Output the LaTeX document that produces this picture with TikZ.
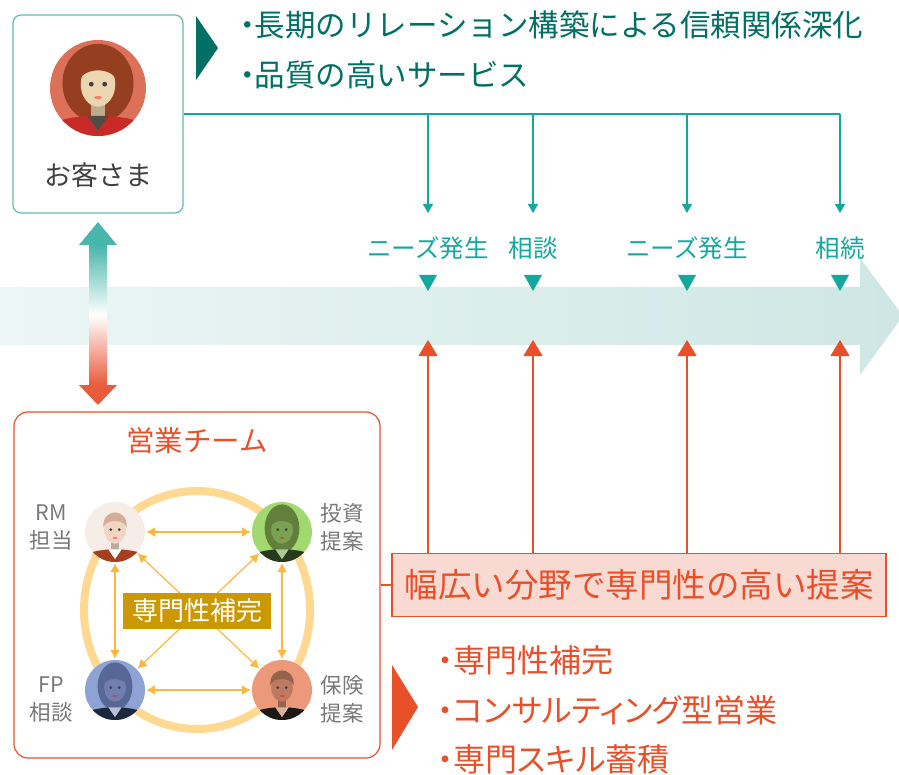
\documentclass[tikz,border=0pt]{standalone}
\usepackage{fontspec}
\setmainfont{Noto Sans CJK JP}
\newfontfamily\propfont[RawFeature=+palt]{Noto Sans CJK JP}
\usetikzlibrary{arrows.meta}

\definecolor{tealline}{RGB}{19,168,158}
\definecolor{tealdark}{RGB}{0,112,100}
\definecolor{tealbox}{RGB}{95,188,178}
\definecolor{tealhead}{RGB}{72,182,170}
\definecolor{bandlight}{RGB}{236,246,245}
\definecolor{banddark}{RGB}{206,231,228}
\definecolor{orangeline}{RGB}{232,80,42}
\definecolor{orangefill}{RGB}{249,218,211}
\definecolor{orangehead}{RGB}{232,92,60}
\definecolor{ringcol}{RGB}{255,216,145}
\definecolor{linkcol}{RGB}{255,182,62}
\definecolor{gold}{RGB}{204,152,0}
\definecolor{txtgray}{RGB}{64,64,64}
\definecolor{lblgray}{RGB}{120,120,120}
% avatar colours
\definecolor{skinA}{RGB}{236,214,178}
\definecolor{hairA}{RGB}{150,62,32}
\definecolor{bgA}{RGB}{220,112,88}
\definecolor{suitA}{RGB}{200,42,40}
\definecolor{shirtA}{RGB}{82,76,70}
\definecolor{skinB}{RGB}{240,212,196}
\definecolor{hairB}{RGB}{214,172,148}
\definecolor{bgB}{RGB}{246,236,232}
\definecolor{suitB}{RGB}{168,62,32}
\definecolor{skinC}{RGB}{122,162,82}
\definecolor{hairC}{RGB}{98,128,60}
\definecolor{bgC}{RGB}{162,216,112}
\definecolor{suitC}{RGB}{40,58,30}
\definecolor{skinD}{RGB}{112,126,176}
\definecolor{hairD}{RGB}{88,104,150}
\definecolor{bgD}{RGB}{142,162,212}
\definecolor{suitD}{RGB}{30,40,60}
\definecolor{skinE}{RGB}{190,122,96}
\definecolor{hairE}{RGB}{150,98,74}
\definecolor{bgE}{RGB}{236,152,122}
\definecolor{suitE}{RGB}{28,24,22}

% narrow bullet dot
\newcommand{\dotmark}{\kern-0.15em・\kern-0.28em}

% #1 centre, #2 radius, #3 background, #4 hair, #5 skin, #6 suit, #7 shirt, #8 hair at back (0 none, 1 long, 2 wide)
\newcommand{\persona}[8]{%
  \begin{scope}[shift={(#1)}, x=#2, y=#2]
    \fill[#3] (0,0) circle (1);
    \begin{scope}
      \clip (0,0) circle (1);
      \ifcase#8\or
        \fill[#4] (0,0.12) ellipse (0.58 and 0.8);
      \or
        \fill[#4] (0,0.1) ellipse (0.74 and 0.82);
      \fi
      \fill[#5!80!black] (-0.14,-0.15) rectangle (0.14,-0.62);
      \fill[#6] (-1,-1.1) .. controls (-0.9,-0.66) .. (-0.22,-0.58) -- (0,-0.9)
        -- (0.22,-0.58) .. controls (0.9,-0.66) .. (1,-1.1) -- cycle;
      \fill[#7] (-0.22,-0.58) -- (0,-0.9) -- (0.22,-0.58) -- cycle;
    \end{scope}
    \fill[#5] (0,0.08) ellipse (0.36 and 0.47);
    \fill[#4] (-0.39,0.15) .. controls (-0.44,0.82) and (0.44,0.82) .. (0.39,0.15)
      .. controls (0.3,0.44) and (-0.3,0.44) .. (-0.39,0.15) -- cycle;
    \fill[black!75] (-0.14,0.08) circle (0.05) (0.14,0.08) circle (0.05);
    \fill[#5!60!red] (0,-0.2) ellipse (0.08 and 0.035);
  \end{scope}}

\begin{document}
\begin{tikzpicture}[x=1pt,y=-1pt,
    every node/.style={inner sep=0pt},
    custbox/.style={draw=tealbox,line width=1.2pt,rounded corners=8pt,minimum width=170pt,minimum height=198pt},
    teambox/.style={draw=orangeline,line width=1.2pt,rounded corners=14pt,minimum width=366pt,minimum height=346pt},
    eventlabel/.style={text=tealline,font=\fontsize{24.5}{28}\selectfont},
    dropline/.style={tealline,line width=1.2pt,-{Triangle[length=9pt,width=10pt]}},
    riseline/.style={orangeline,line width=1.2pt,-{Triangle[length=16pt,width=19pt]}},
    member/.style={circle,minimum size=62pt},
    memberlabel/.style={text=lblgray,align=center,font=\fontsize{21.5}{28}\selectfont},
    link/.style={linkcol,line width=1.2pt,{Latex[length=9pt,width=10pt]}-{Latex[length=9pt,width=10pt]}},
    bigtext/.style={anchor=west,font=\fontsize{30.5}{36}\selectfont},
    gaintext/.style={anchor=west,text=orangeline,font=\propfont\fontsize{32}{38}\selectfont}]
  \useasboundingbox (0,0) rectangle (899,775);

  % time band
  \shade[left color=bandlight,right color=banddark]
    (0,287) -- (860,287) -- (860,258) -- (903,316) -- (860,375) -- (860,345) -- (0,345) -- cycle;

  % customer
  \node[custbox] (cust) at (98,114) {};
  \persona{98,88}{48pt}{bgA}{hairA}{skinA}{suitA}{shirtA}{2}
  \node[text=txtgray,font=\fontsize{27}{30}\selectfont] (custname) at (98,175) {お客さま};

  \fill[tealdark] (196,16) -- (218,48) -- (196,80) -- cycle;
  \node[bigtext,text=tealdark] (merit1) at (237,25) {\dotmark 長期のリレーション構築による信頼関係深化};
  \node[bigtext,text=tealdark] (merit2) at (237,75) {\dotmark 品質の高いサービス};

  % proposal box
  \node[draw=orangeline,fill=orangefill,line width=1.5pt,minimum width=494pt,minimum height=63pt,
        text=orangeline,font=\fontsize{33.5}{38}\selectfont] (propose) at (639,585) {幅広い分野で専門性の高い提案};

  % events on the time band
  \draw[tealline,line width=1.2pt] (cust.east) -- (840,114);
  \foreach \x/\lbl/\n in {428/ニーズ発生/1,533/相談/2,687/ニーズ発生/3,840/相続/4}{
    \coordinate (hub\n) at (\x,114);
    \coordinate (tip\n) at (\x,213);
    \node[eventlabel] (ev\n) at (\x,248) {\lbl};
    \draw[dropline] (hub\n) -- (tip\n);
    \fill[tealline] (\x-9,275) -- (\x+9,275) -- (\x,291) -- cycle;
    \coordinate (mark\n) at (\x,340);
    \draw[riseline] (hub\n |- propose.north) -- (mark\n);
  }

  % link between customer and team
  \shade[top color=tealhead,bottom color=orangehead,middle color=white] (89,245) rectangle (107,385);
  \fill[tealhead] (98,222) -- (117,245) -- (79,245) -- cycle;
  \fill[orangehead] (79,385) -- (117,385) -- (98,405) -- cycle;

  % sales team
  \node[teambox] (team) at (197,585) {};
  \node[text=orangeline,font=\fontsize{28.5}{32}\selectfont] (teamtitle) at (197,441) {営業チーム};
  \draw[ringcol,line width=8pt] (197,610) ellipse (113 and 119);

  \node[member] (rm) at (115,532) {};
  \node[member] (inv) at (282,532) {};
  \node[member] (fp) at (115,690) {};
  \node[member] (ins) at (282,690) {};
  \persona{rm}{30pt}{bgB}{hairB}{skinB}{suitB}{white}{0}
  \persona{inv}{30pt}{bgC}{hairC}{skinC}{suitC}{skinC!60!white}{1}
  \persona{fp}{30pt}{bgD}{hairD}{skinD}{suitD}{skinD!50!white}{1}
  \persona{ins}{30pt}{bgE}{hairE}{skinE}{suitE}{skinE!60!white}{0}

  \draw[link] (rm) -- (inv);
  \draw[link] (fp) -- (ins);
  \draw[link] (rm) -- (fp);
  \draw[link] (inv) -- (ins);
  \draw[link] (rm) -- (ins);
  \draw[link] (inv) -- (fp);

  \node[fill=gold,text=white,minimum width=148pt,minimum height=36pt,font=\fontsize{26}{30}\selectfont] (core) at (197,611) {専門性補完};

  \node[memberlabel] (rmlbl) at (51,527) {RM\\担当};
  \node[memberlabel] (invlbl) at (342,527) {投資\\提案};
  \node[memberlabel] (fplbl) at (51,699) {FP\\相談};
  \node[memberlabel] (inslbl) at (342,699) {保険\\提案};

  \draw[orangeline,line width=1.2pt] (team.east) -- (propose.west);

  % team strengths
  \fill[orangeline] (392,665) -- (418,707) -- (392,750) -- cycle;
  \node[gaintext] (gain1) at (437,660) {・専門性補完};
  \node[gaintext] (gain2) at (437,710) {・コンサルティング型営業};
  \node[gaintext] (gain3) at (437,759) {・専門スキル蓄積};
\end{tikzpicture}
\end{document}
